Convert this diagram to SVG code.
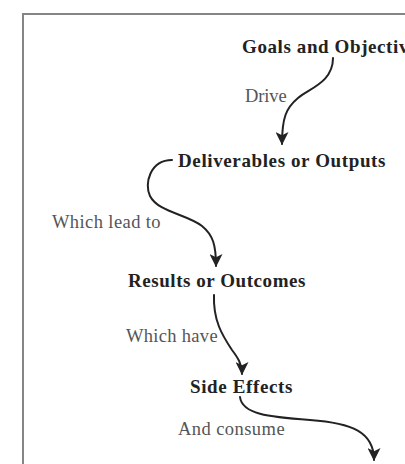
<svg xmlns="http://www.w3.org/2000/svg" width="405" height="464" viewBox="0 0 405 464">
<style>
.frame{fill:none;stroke:#858585;stroke-width:2}
.node{font-family:"Liberation Serif",serif;font-weight:bold;font-size:19px;fill:#222;letter-spacing:0.6px}
.lbl{font-family:"Liberation Serif",serif;font-size:18.5px;fill:#555;letter-spacing:0.4px}
.conn{fill:none;stroke:#222;stroke-width:2;stroke-linecap:round}
</style>
<defs>
<marker id="ah" viewBox="0 0 12 12" refX="11" refY="6" markerWidth="15" markerHeight="13" markerUnits="userSpaceOnUse" orient="auto">
<path d="M0,0 L12,6 L0,12 L3,6 z" fill="#222"/>
</marker>
</defs>
<rect width="405" height="464" fill="#fff"/>
<path class="frame" d="M23,470 L23,14 L410,14"/>
<g id="n-goals"><text class="node" x="242" y="53">Goals and Objectives</text></g>
<g id="n-deliverables"><text class="node" x="178" y="167" textLength="208" lengthAdjust="spacing">Deliverables or Outputs</text></g>
<g id="n-results"><text class="node" x="128" y="287" textLength="178" lengthAdjust="spacing">Results or Outcomes</text></g>
<g id="n-side"><text class="node" x="190" y="393" textLength="103" lengthAdjust="spacing">Side Effects</text></g>
<g id="connectors">
<path class="conn" marker-end="url(#ah)" d="M333,58 C333,82 310,88 298,98 C286,108 282,118 282,144"/>
<path class="conn" marker-end="url(#ah)" d="M172,160 C150,160 144,184 150,196 C158,212 186,214 202,226 C213,235 216,245 216,266"/>
<path class="conn" marker-end="url(#ah)" d="M214,295 C213,320 222,335 232,350 C238,358 242,364 242,374"/>
<path class="conn" marker-end="url(#ah)" d="M240,397 C242,414 268,417 310,420 C352,423 374,432 374,460"/>
<text class="lbl" x="245" y="102" textLength="42" lengthAdjust="spacing">Drive</text>
<text class="lbl" x="52" y="228" textLength="109" lengthAdjust="spacing">Which lead to</text>
<text class="lbl" x="126" y="342" textLength="92" lengthAdjust="spacing">Which have</text>
<text class="lbl" x="178" y="435" textLength="107" lengthAdjust="spacing">And consume</text>
</g>
</svg>
